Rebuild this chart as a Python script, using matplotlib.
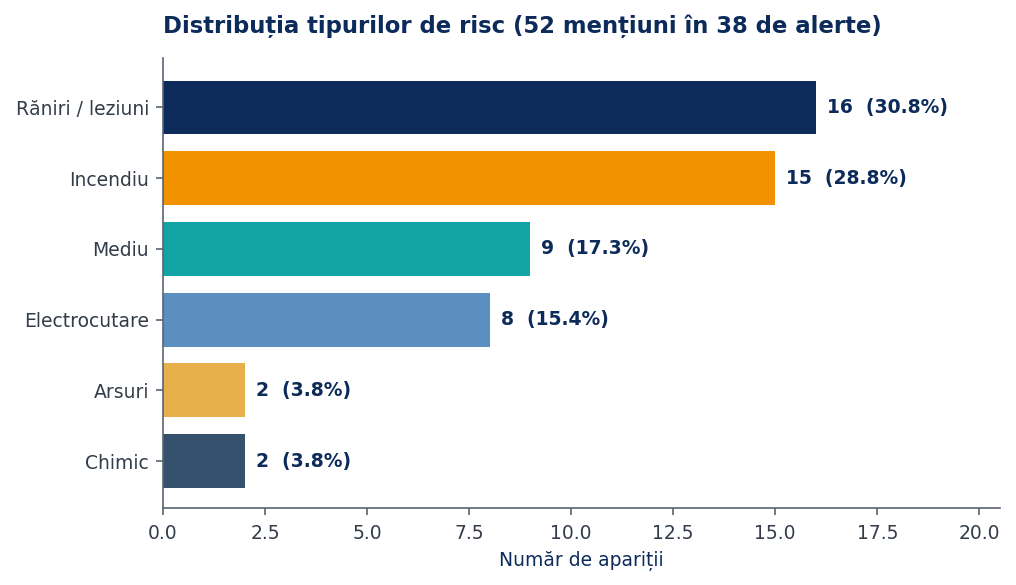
import matplotlib
matplotlib.use('Agg')
import matplotlib.pyplot as plt

plt.rcParams['font.family'] = ['DejaVu Sans']

# Data
categories = ['Răniri / leziuni', 'Incendiu', 'Mediu', 'Electrocutare', 'Arsuri', 'Chimic']
counts = [16, 15, 9, 8, 2, 2]
percents = [30.8, 28.8, 17.3, 15.4, 3.8, 3.8]
colors = ['#0d2b5a', '#f29200', '#13a4a5', '#5b8fbf', '#e8b04b', '#36516e']

navy = '#0d2b5a'
spine_col = '#5a6472'
tick_col = '#333d4a'

fig, ax = plt.subplots(figsize=(10.16, 5.85), dpi=100)
fig.subplots_adjust(left=0.1604, right=0.984, top=0.901, bottom=0.132)

y = list(range(len(categories)))
ax.barh(y, counts, height=0.76, color=colors)
ax.set_yticks(y, labels=categories)
ax.set_xlim(0, 20.5)
ax.set_ylim(5.66, -0.70)

for yi, c, p in zip(y, counts, percents):
    ax.annotate(f'{c}  ({p}%)', (c, yi), xytext=(8, 0), textcoords='offset points',
                va='center', ha='left', fontsize=13.5, fontweight='bold', color=navy)

for s in ['top', 'right']:
    ax.spines[s].set_visible(False)
for s in ['left', 'bottom']:
    ax.spines[s].set_color(spine_col)
    ax.spines[s].set_linewidth(1.2)
ax.tick_params(colors=spine_col, labelcolor=tick_col, labelsize=13.5, length=5, width=1.2, pad=5)
ax.tick_params(axis='x', pad=6.5)

ax.set_xlabel('Număr de apariții', fontsize=13.5, color=navy, labelpad=6)
ax.set_title('Distribuția tipurilor de risc (52 mențiuni în 38 de alerte)', loc='left',
             fontsize=16.4, fontweight='bold', color=navy, pad=18)

fig.savefig('out.png', dpi=100)
